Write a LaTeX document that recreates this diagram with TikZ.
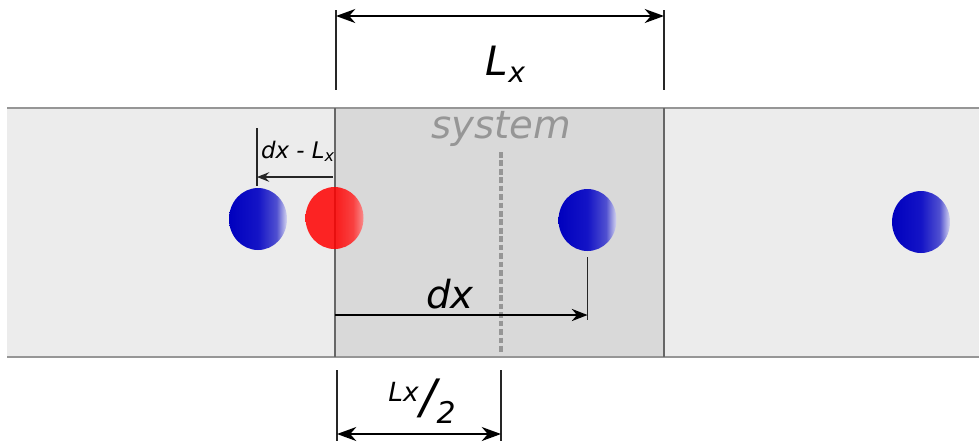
\documentclass[tikz,border=0pt]{standalone}
\usepackage{fontspec}
\setmainfont{DejaVu Sans}
\usepackage{tikz}
\usetikzlibrary{arrows, arrows.meta, shapes.geometric}
\definecolor{bandgray}{RGB}{236, 236, 236}
\definecolor{sysgray}{RGB}{217, 217, 217}
\definecolor{linegray}{RGB}{150, 150, 150}
\definecolor{ballblue}{RGB}{0, 0, 190}
\definecolor{ballmid}{RGB}{20, 20, 198}
\definecolor{ballsoft}{RGB}{80, 80, 208}
\definecolor{balllight}{RGB}{215, 215, 240}
\pgfdeclarehorizontalshading{blueball}{100bp}{color(0bp)=(ballblue); color(25bp)=(ballblue); color(50bp)=(ballmid); color(66bp)=(ballsoft); color(75bp)=(balllight); color(100bp)=(balllight)}
\pgfdeclarehorizontalshading{redball}{100bp}{color(0bp)=(red); color(25bp)=(red); color(52bp)=(red); color(66bp)=(red!85!white); color(75bp)=(red!50!white); color(100bp)=(red!50!white)}
\begin{document}
\begin{tikzpicture}[x=0.02cm, y=-0.02cm,
			>={Stealth[length=11pt, width=8pt, inset=3.5pt]},   %Pfeilspitzen
			ball/.style={ellipse, minimum width=1.16cm, minimum height=1.24cm, inner sep=0pt},
			tick/.style={draw=black!85, line width=1.1pt},
			dim/.style={draw=black, line width=0.9pt, <->},
			lab/.style={font=\itshape, inner sep=0pt}]
			%Bildbereich
			\useasboundingbox (0,0) rectangle (979,441);
			%Band zeichnen
			\fill[bandgray] (7,108) rectangle (979,357);
			\fill[sysgray] (335,108) rectangle (664,357);
			\draw[linegray, line width=1.2pt] (7,108) -- (979,108);
			\draw[linegray, line width=1.2pt] (7,357) -- (979,357);
			\draw[black!60, line width=1.2pt] (335,108) -- (335,357);
			\draw[black!60, line width=1.2pt] (664,108) -- (664,357);
			% Mitte des Systems
			\draw[linegray, line width=2.6pt, dash pattern=on 3.2pt off 1.6pt] (501,152) -- (501,352);
			\node[lab, text=linegray, font=\fontsize{22}{23}\selectfont\itshape] (sys) at (501,129) {system};
			%Teilchen
			\node[ball, shading=blueball] (b1) at (258,219) {};
			\node[ball, shading=redball, opacity=0.85] (r1) at (334.5,218) {};
			\node[ball, shading=blueball] (b2) at (587.5,220) {};
			\node[ball, shading=blueball] (b3) at (921,222) {};
			% Hilfspunkte
			\coordinate (t1a) at (336,10); \coordinate (t1b) at (336,90);
			\coordinate (t2a) at (664,10); \coordinate (t2b) at (664,90);
			\coordinate (d1) at (336,16); \coordinate (d2) at (664,16);
			\coordinate (t3a) at (337,370); \coordinate (t3b) at (337,441);
			\coordinate (t4a) at (501,370); \coordinate (t4b) at (501,441);
			\coordinate (d3) at (337,434); \coordinate (d4) at (501,434);
			\coordinate (t5a) at (257,128); \coordinate (t5b) at (257,186);
			\coordinate (d5) at (333,177); \coordinate (d6) at (257,177);
			\coordinate (t6a) at (587.5,257); \coordinate (t6b) at (587.5,320);
			\coordinate (d7) at (335,315); \coordinate (d8) at (587.5,315);
			%Bemassung oben
			\draw[tick] (t1a) -- (t1b);
			\draw[tick] (t2a) -- (t2b);
			\draw[dim] (d1) -- (d2);
			\node[lab, font=\fontsize{23}{24}\selectfont\itshape] (Lx) at (506,64) {L\textsubscript{x}};
			%Bemassung unten
			\draw[tick] (t3a) -- (t3b);
			\draw[tick] (t4a) -- (t4b);
			\draw[dim] (d3) -- (d4);
			\node[lab] (half) at (422,401) {\raisebox{1.2ex}{\fontsize{15}{16}\selectfont Lx}\hspace{1pt}{\fontsize{27}{28}\selectfont /}\hspace{0pt}\raisebox{-1.0ex}{\fontsize{17}{18}\selectfont 2}};
			%Abstand dx - Lx
			\draw[black!85, line width=0.8pt] (t5a) -- (t5b);
			\draw[-{Stealth[length=7pt, width=5.5pt, inset=2.5pt]}, black!85, line width=0.6pt] (d5) -- (d6);
			\node[lab, font=\fontsize{13}{14}\selectfont\itshape] (dxl) at (298,151) {dx - L\textsubscript{x}};
			%Abstand dx
			\draw[black!85, line width=1.1pt] (t6a) -- (t6b);
			\draw[-{Stealth[length=9pt, width=7pt, inset=3pt]}, black, line width=0.8pt] (d7) -- (d8);
			\node[lab, font=\fontsize{22}{23}\selectfont\itshape] (dx) at (450,294) {dx};
		\end{tikzpicture}
\end{document}
